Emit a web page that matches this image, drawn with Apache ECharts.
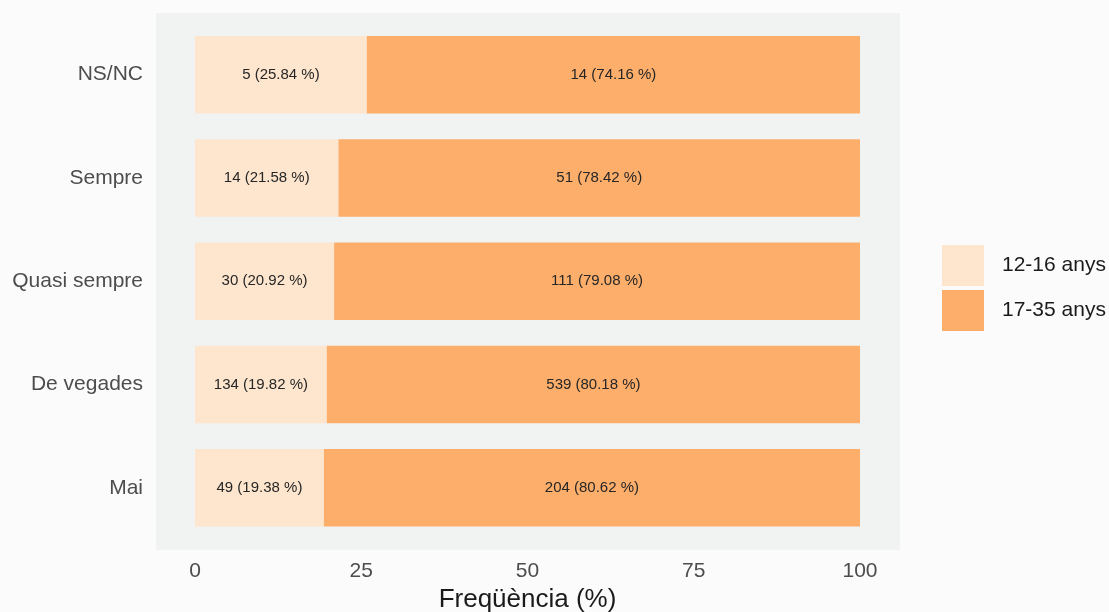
<!DOCTYPE html>
<html>
<head>
<meta charset="utf-8">
<script src="https://cdn.jsdelivr.net/npm/echarts@6/dist/echarts.min.js"></script>
<style>
html,body{margin:0;padding:0;background:#fbfbfb;}
#chart{width:1109px;height:612px;}
</style>
</head>
<body>
<div id="chart"></div>
<script>
const categories = ['Mai', 'De vegades', 'Quasi sempre', 'Sempre', 'NS/NC'];
const seriesNames = ['12-16 anys', '17-35 anys'];
const countsYoung = [49, 134, 30, 14, 5];
const pctYoung = [19.38, 19.82, 20.92, 21.58, 25.84];
const countsOld = [204, 539, 111, 51, 14];
const pctOld = [80.62, 80.18, 79.08, 78.42, 74.16];
const xTicks = [0, 25, 50, 75, 100];

const FONT = 'Liberation Sans, Arial, sans-serif';
const chart = echarts.init(document.getElementById('chart'));

function mkData(pcts, counts) {
  return pcts.map((p, i) => ({ value: p, count: counts[i] }));
}
const labelFmt = p => p.data.count + ' (' + p.data.value.toFixed(2) + ' %)';

chart.setOption({
  backgroundColor: '#fbfbfb',
  animation: false,
  graphic: [{
    type: 'rect', z: -1,
    shape: { x: 156, y: 13, width: 744, height: 537 },
    style: { fill: '#f1f3f2' }
  }],
  grid: { left: 195, right: 249, top: 23, bottom: 72.5, containLabel: false, outerBoundsMode: 'none' },
  legend: {
    orient: 'vertical', left: 937, top: 240,
    itemWidth: 42, itemHeight: 41, itemGap: 4,
    icon: 'rect',
    textStyle: { fontFamily: FONT, fontSize: 21, color: '#1a1a1a', padding: [0, 0, 0, 13] },
    data: seriesNames
  },
  xAxis: {
    type: 'value', min: 0, max: 100, interval: 25,
    axisLine: { show: false }, axisTick: { show: false }, splitLine: { show: false },
    axisLabel: { margin: 21, fontFamily: FONT, fontSize: 21, color: '#4d4d4d',
      formatter: v => xTicks.includes(v) ? String(v) : '' },
    name: 'Freqüència (%)', nameLocation: 'middle', nameGap: 47,
    nameTextStyle: { fontFamily: FONT, fontSize: 26, color: '#1a1a1a' }
  },
  yAxis: {
    type: 'category', data: categories,
    axisLine: { show: false }, axisTick: { show: false }, splitLine: { show: false },
    axisLabel: { margin: 52, fontFamily: FONT, fontSize: 21, color: '#4d4d4d' }
  },
  series: [
    { name: seriesNames[0], type: 'bar', stack: 's', barWidth: '75%',
      itemStyle: { color: '#fee6ce' },
      label: { show: true, position: 'inside', formatter: labelFmt, fontFamily: FONT, fontSize: 15, color: '#262626' },
      data: mkData(pctYoung, countsYoung) },
    { name: seriesNames[1], type: 'bar', stack: 's', barWidth: '75%',
      itemStyle: { color: '#fdae6b' },
      label: { show: true, position: 'inside', formatter: labelFmt, fontFamily: FONT, fontSize: 15, color: '#262626' },
      data: mkData(pctOld, countsOld) }
  ]
});
</script>
</body>
</html>
